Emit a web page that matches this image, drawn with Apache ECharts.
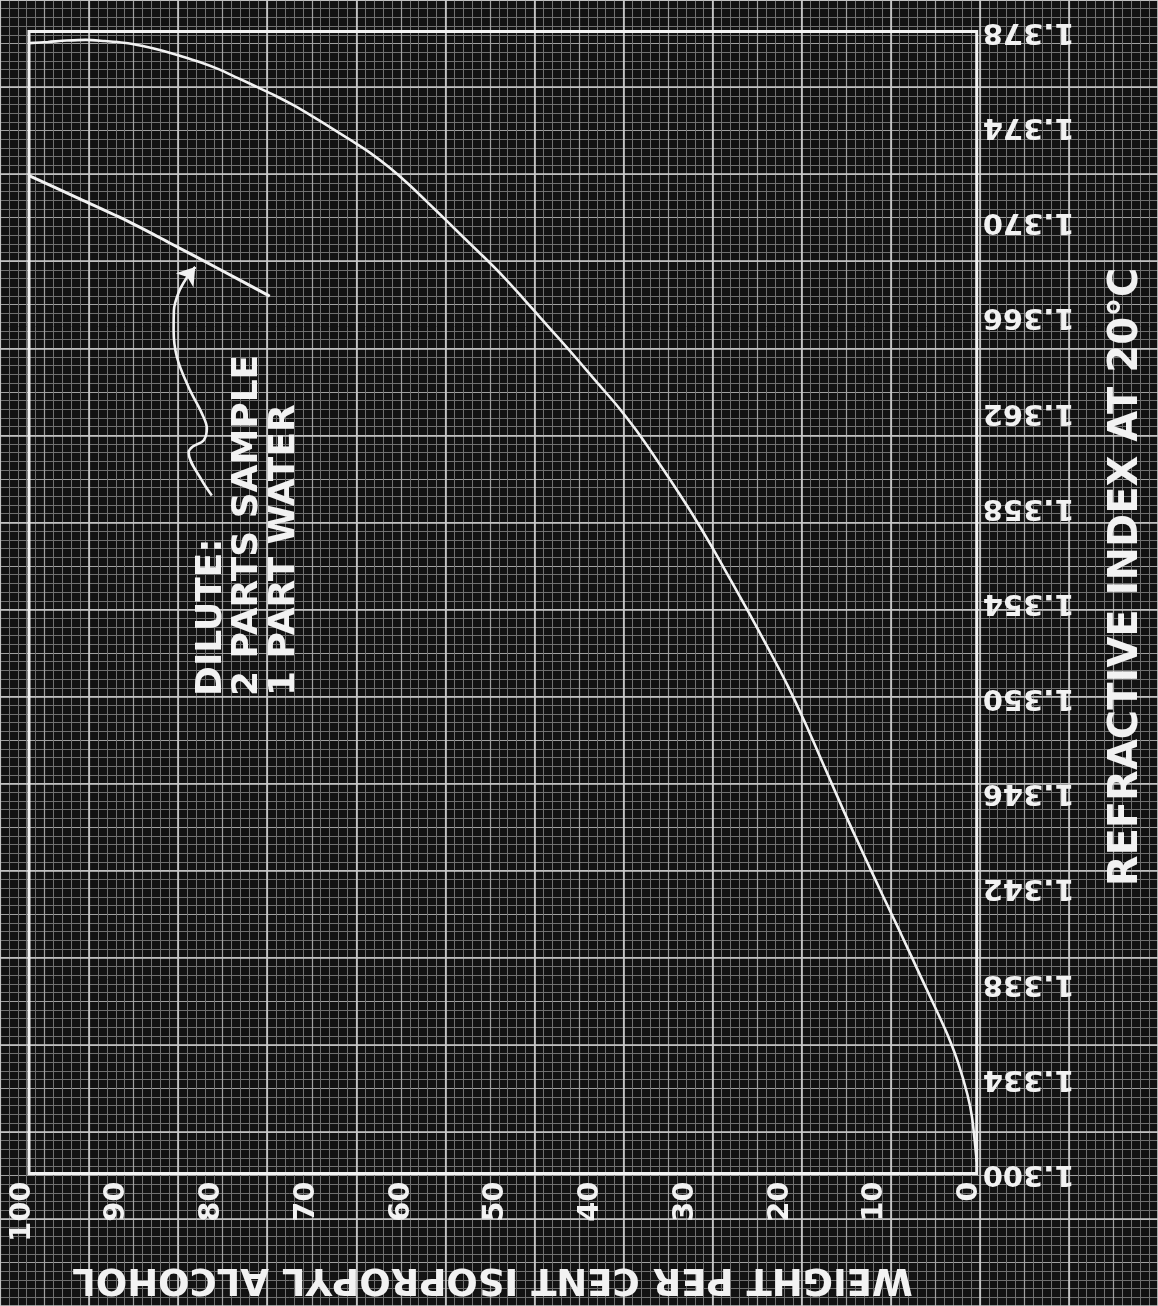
<!DOCTYPE html>
<html><head><meta charset="utf-8">
<script src="https://cdn.jsdelivr.net/npm/echarts@6/dist/echarts.min.js"></script>
<style>html,body{margin:0;padding:0;background:#131313;}#c{width:1158px;height:1306px;}</style>
</head><body><div id="c"></div>
<script>
// ---- data ----
const pctMain = [100, 98, 96, 94, 92, 90, 88, 86, 84, 82, 80, 78, 76, 74, 72, 70, 68, 66, 64, 62, 60, 58, 56, 54, 52, 50, 48, 46, 44, 42, 40, 38, 36, 34, 32, 30, 28, 26, 24, 22, 20, 18, 16, 14, 12, 10, 8, 6, 4, 3, 2, 1, 0.5, 0];
const riMain = [1.37751, 1.37756, 1.37762, 1.37765, 1.37760, 1.37753, 1.37739, 1.37720, 1.37697, 1.37672, 1.37642, 1.37605, 1.37568, 1.37530, 1.37488, 1.37441, 1.37392, 1.37342, 1.37290, 1.37229, 1.37160, 1.37084, 1.37007, 1.36929, 1.36852, 1.36772, 1.36685, 1.36595, 1.36506, 1.36415, 1.36322, 1.36230, 1.36128, 1.36014, 1.35895, 1.35771, 1.35638, 1.35497, 1.35354, 1.35207, 1.35055, 1.34885, 1.34703, 1.34521, 1.34347, 1.34176, 1.34008, 1.33836, 1.33665, 1.33576, 1.33470, 1.33335, 1.33238, 1.33050];
const pctDilute = [100, 95, 90, 85, 80, 75, 74.6];
const riDilute = [1.37194, 1.37103, 1.37011, 1.36908, 1.36803, 1.36696, 1.36687];
const arrowPct = [80.71, 81.76, 83.16, 82.71, 81.58, 81.23, 81.76, 83.16, 84.39, 84.74, 84.71, 84.21, 83.34, 82.46];
const arrowRi = [1.35850, 1.35913, 1.36031, 1.36056, 1.36081, 1.36132, 1.36195, 1.36305, 1.36431, 1.36544, 1.36628, 1.36703, 1.36766, 1.36810];
const xTickLabels = ['0', '10', '20', '30', '40', '50', '60', '70', '80', '90', '100'];
const yTickLabels = ['1.300', '1.334', '1.338', '1.342', '1.346', '1.350', '1.354', '1.358', '1.362', '1.366', '1.370', '1.374', '1.378'];
const yTitle = 'REFRACTIVE INDEX AT 20°C';
const xTitle = 'WEIGHT PER CENT ISOPROPYL ALCOHOL';
const noteLines = ['DILUTE:', '2 PARTS SAMPLE', '1 PART WATER'];

// ---- chart ----
const chart = echarts.init(document.getElementById('c'));
const FONT = '"DejaVu Sans", sans-serif';
const INK = '#f2f2f2';
const HEAVY = '#cdcdcd', MED = '#a0a0a0', FINE = '#707070';
const hid = { axisLine: { show: false }, axisTick: { show: false }, axisLabel: { show: false } };
const Y0 = 1.330;

const option = {
  backgroundColor: '#121212',
  animation: false,
  grid: [
    { left: -65.77, right: -8.24, top: -63.7, bottom: -57.8 },
    { left: 29, right: 181.3, top: 31.5, bottom: 132.5, show: true, borderColor: INK, borderWidth: 3, backgroundColor: 'transparent', z: 4 },
    { left: 22, right: 188.3, top: 31.5, bottom: 132.5 }
  ],
  xAxis: [
    Object.assign({ gridIndex: 0, type: 'value', min: -20, max: 110, interval: 10, inverse: true, z: 2,
      splitLine: { show: true, lineStyle: { color: HEAVY, width: 1.6 } } }, hid),
    Object.assign({ gridIndex: 0, type: 'value', min: -20, max: 110, interval: 5, inverse: true, z: 1,
      splitLine: { show: true, lineStyle: { color: MED, width: 1.2 } },
      minorTick: { show: false, splitNumber: 5 },
      minorSplitLine: { show: true, lineStyle: { color: FINE, width: 1 } } }, hid),
    Object.assign({ gridIndex: 1, type: 'value', min: 0, max: 100, interval: 10, inverse: true,
      splitLine: { show: false } }, hid),
    { gridIndex: 2, type: 'value', min: 0, max: 100, interval: 10, inverse: true, position: 'bottom', z: 8,
      axisLine: { show: false }, axisTick: { show: false }, splitLine: { show: false },
      axisLabel: { show: true, rotate: 90, margin: 8, color: INK, fontFamily: FONT, fontWeight: 'bold', fontSize: 29,
        formatter: v => xTickLabels[Math.round(v / 10)] } }
  ],
  yAxis: [
    Object.assign({ gridIndex: 0, type: 'value', min: -20, max: 130, interval: 10, z: 2,
      splitLine: { show: true, lineStyle: { color: HEAVY, width: 1.6 } } }, hid),
    Object.assign({ gridIndex: 0, type: 'value', min: -20, max: 130, interval: 5, z: 1,
      splitLine: { show: true, lineStyle: { color: MED, width: 1.2 } },
      minorTick: { show: false, splitNumber: 5 },
      minorSplitLine: { show: true, lineStyle: { color: FINE, width: 1 } } }, hid),
    { gridIndex: 1, type: 'value', min: 1.330, max: 1.378, interval: 0.002, position: 'right', z: 8,
      axisLine: { show: false }, axisTick: { show: false }, splitLine: { show: false },
      axisLabel: { show: true, rotate: 180, margin: 6, color: INK, fontFamily: FONT, fontWeight: 'bold', fontSize: 29,
        formatter: v => { const k = Math.round((v - Y0) / 0.002); return k % 2 ? '' : (yTickLabels[k / 2] || ''); } } },
    { gridIndex: 2, type: 'value', min: 0, max: 1, show: false }
  ],
  series: [
    { type: 'line', xAxisIndex: 2, yAxisIndex: 2, z: 6, showSymbol: false, smooth: 0.3, clip: false,
      lineStyle: { color: INK, width: 2.6 },
      data: pctMain.map((p, i) => [p, riMain[i]]) },
    { type: 'line', xAxisIndex: 2, yAxisIndex: 2, z: 6, showSymbol: false, smooth: 0.3, clip: false,
      lineStyle: { color: INK, width: 3 },
      data: pctDilute.map((p, i) => [p, riDilute[i]]) },
    { type: 'line', xAxisIndex: 2, yAxisIndex: 2, z: 6, showSymbol: false, smooth: 0.35, clip: false,
      lineStyle: { color: INK, width: 2.6 },
      data: arrowPct.map((p, i) => [p, arrowRi[i]]) },
    { type: 'lines', coordinateSystem: 'cartesian2d', xAxisIndex: 2, yAxisIndex: 2, z: 7,
      symbol: ['none', 'arrow'], symbolSize: 17,
      lineStyle: { color: INK, width: 2.6, opacity: 1 },
      data: [{ coords: [[arrowPct[arrowPct.length - 2], arrowRi[arrowRi.length - 2]], [arrowPct[arrowPct.length - 1], arrowRi[arrowRi.length - 1]]] }] }
  ],
  graphic: [
    { type: 'text', x: 1127, y: 577, rotation: Math.PI / 2, z: 10,
      style: { text: yTitle, font: 'bold 40px "DejaVu Sans"', fill: INK, align: 'center', verticalAlign: 'middle', textAlign: 'center', textVerticalAlign: 'middle' } },
    { type: 'text', x: 492.5, y: 1278.5, rotation: Math.PI, z: 10,
      style: { text: xTitle, font: 'bold 37px "DejaVu Sans"', fill: INK, align: 'center', verticalAlign: 'middle', textAlign: 'center', textVerticalAlign: 'middle' } },
    { type: 'text', x: 193, y: 696, rotation: Math.PI / 2, z: 10,
      style: { text: noteLines.join('\n'), font: 'bold 36px "DejaVu Sans"', lineHeight: 36.5, fill: INK, align: 'left', verticalAlign: 'top', textAlign: 'left', textVerticalAlign: 'top' } }
  ]
};
chart.setOption(option);
</script>
</body></html>
